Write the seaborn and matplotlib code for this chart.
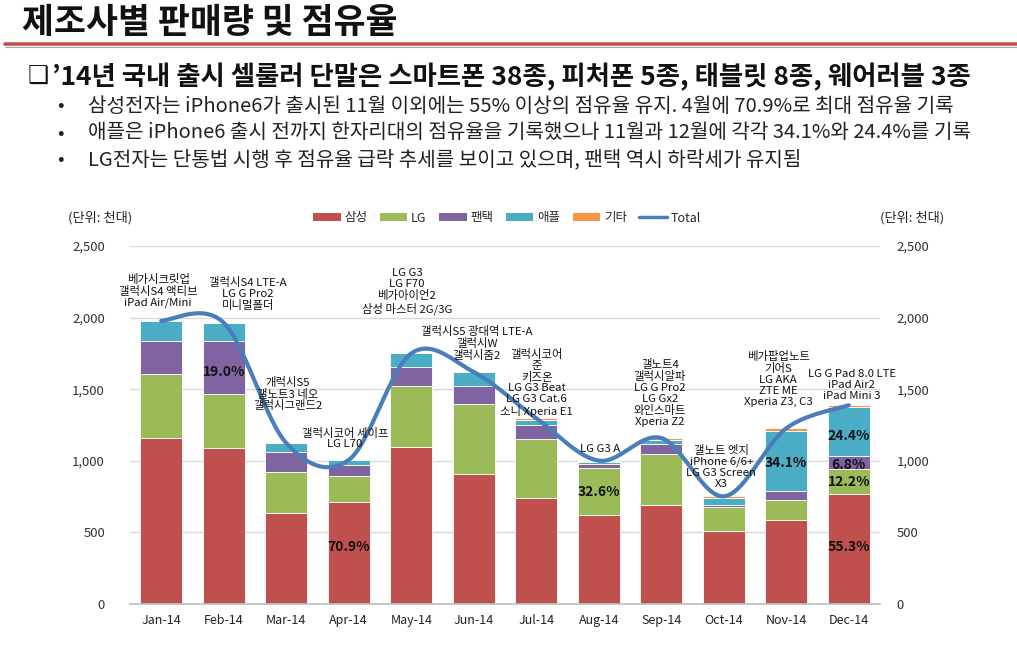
import numpy as np
import matplotlib
matplotlib.use("Agg")
import matplotlib.pyplot as plt
from matplotlib.patches import Patch
from matplotlib.lines import Line2D
import seaborn as sns

months = ["Jan-14", "Feb-14", "Mar-14", "Apr-14", "May-14", "Jun-14",
          "Jul-14", "Aug-14", "Sep-14", "Oct-14", "Nov-14", "Dec-14"]
samsung = [1161, 1089, 637, 714, 1099, 910, 740, 621, 691, 512, 584, 768]
lg = [445, 380, 285, 182, 421, 489, 412, 327, 359, 165, 142, 172]
pantech = [233, 370, 142, 77, 137, 126, 100, 30, 65, 14, 65, 96]
apple = [139, 125, 60, 33, 93, 95, 33, 14, 32, 51, 419, 338]
others = [0, 0, 0, 0, 0, 0, 12, 9, 12, 10, 17, 14]

series_names = ["삼성", "LG", "팬택", "애플", "기타"]
series_colors = ["#C0504D", "#9BBB59", "#8064A2", "#4BACC6", "#F79646"]
line_color = "#4A7EBB"

model_notes = [
    "베가시크릿업\n갤럭시S4 액티브\niPad Air/Mini",
    "갤럭시S4 LTE-A\nLG G Pro2\n미니멀폴더",
    "개럭시S5\n갤노트3 네오\n갤럭시그랜드2",
    "갤럭시코어 세이프\nLG L70",
    "LG G3\nLG F70\n베가아이언2\n삼성 마스터 2G/3G",
    "갤럭시S5 광대역 LTE-A\n갤럭시W\n갤럭시줌2",
    "갤럭시코어\n준\n키즈온\nLG G3 Beat\nLG G3 Cat.6\n소니 Xperia E1",
    "LG G3 A",
    "갤노트4\n갤럭시알파\nLG G Pro2\nLG Gx2\n와인스마트\nXperia Z2",
    "갤노트 엣지\niPhone 6/6+\nLG G3 Screen\nX3",
    "베가팝업노트\n기어S\nLG AKA\nZTE ME\nXperia Z3, C3",
    "LG G Pad 8.0 LTE\niPad Air2\niPad Mini 3",
]
note_pos = [(-0.05, 2186), (1.39, 2165), (2.03, 1466), (2.94, 1156),
            (3.93, 2182), (5.05, 1819), (6.01, 1543), (7.02, 1082),
            (7.98, 1473), (8.96, 957), (9.87, 1571), (11.05, 1529)]

share_labels = ["19.0%", "70.9%", "32.6%", "34.1%", "24.4%", "6.8%", "12.2%", "55.3%"]
share_pos = [(1, 1620), (3, 398), (7, 782), (10, 985),
             (11, 1173), (11, 971), (11, 852), (11, 398)]

sns.set_theme(style="white")
plt.rcParams["font.family"] = ["Noto Sans CJK KR", "DejaVu Sans"]

W, H = 1017, 649
fig = plt.figure(figsize=(W / 100, H / 100), dpi=100)
fig.patch.set_facecolor("white")

# header
fig.text(22 / W, 1 - 22 / H, "제조사별 판매량 및 점유율", fontsize=25, fontweight="black",
         va="center", ha="left", color="#111111")
fig.add_artist(Line2D([5 / W, 1], [1 - 43.5 / H] * 2, color="#C0504D", lw=2.6))
fig.add_artist(Line2D([5 / W, 1], [1 - 46.5 / H] * 2, color="#A6A6A6", lw=0.8))

fig.text(28 / W, 1 - 77 / H, "❑", fontsize=17, va="center", ha="left",
         family=["DejaVu Sans"], color="#111111")
fig.text(52 / W, 1 - 77 / H,
         "’14년 국내 출시 셀룰러 단말은 스마트폰 38종, 피처폰 5종, 태블릿 8종, 웨어러블 3종",
         fontsize=19, fontweight="bold", va="center", ha="left", color="#111111")
bullets = [
    "삼성전자는 iPhone6가 출시된 11월 이외에는 55% 이상의 점유율 유지. 4월에 70.9%로 최대 점유율 기록",
    "애플은 iPhone6 출시 전까지 한자리대의 점유율을 기록했으나 11월과 12월에 각각 34.1%와 24.4%를 기록",
    "LG전자는 단통법 시행 후 점유율 급락 추세를 보이고 있으며, 팬택 역시 하락세가 유지됨",
]
for i, b in enumerate(bullets):
    y = 1 - (106 + 27 * i) / H
    fig.text(57 / W, y, "•", fontsize=14, va="center", ha="left", color="#222222")
    fig.text(88 / W, y, b, fontsize=14.5, va="center", ha="left", color="#222222")

# chart
ax = fig.add_axes([130 / W, 1 - 604 / H, 750 / W, 358 / H])
x = np.arange(len(months))
bottom = np.zeros(len(months))
for name, vals, col in zip(series_names, [samsung, lg, pantech, apple, others], series_colors):
    ax.bar(x, vals, width=0.667, bottom=bottom, color=col, edgecolor="white",
           linewidth=0.6, zorder=2)
    bottom += np.array(vals)
total = bottom.copy()

# Excel-style smoothed line (Catmull-Rom bezier through monthly totals)
px, py = [], []
pts = np.column_stack([x, total]).astype(float)
t = np.linspace(0, 1, 30)
for i in range(len(pts) - 1):
    p0 = pts[max(i - 1, 0)]
    p1 = pts[i]
    p2 = pts[i + 1]
    p3 = pts[min(i + 2, len(pts) - 1)]
    c1 = p1 + (p2 - p0) / 6
    c2 = p2 - (p3 - p1) / 6
    seg = ((1 - t) ** 3)[:, None] * p1 + (3 * (1 - t) ** 2 * t)[:, None] * c1 \
        + (3 * (1 - t) * t ** 2)[:, None] * c2 + (t ** 3)[:, None] * p2
    px.extend(seg[:, 0])
    py.extend(seg[:, 1])
sns.lineplot(x=px, y=py, ax=ax, sort=False, color=line_color, linewidth=3, zorder=4)

ax.set_xlim(-0.5, 11.5)
ax.set_ylim(0, 2500)
ax.set_yticks(range(0, 2501, 500))
ax.set_yticklabels([f"{v:,}" for v in range(0, 2501, 500)], fontsize=9.5, color="#333333")
ax.yaxis.grid(True, color="#D9D9D9", linewidth=1, zorder=0)
ax.set_axisbelow(True)
ax.set_xticks(x)
ax.set_xticklabels(months, fontsize=9, color="#222222")
ax.set_xticks(np.arange(-0.5, 12, 1), minor=True)
ax.tick_params(axis="x", which="major", length=0, pad=7)
ax.tick_params(axis="x", which="minor", length=5, color="#BFBFBF", direction="out")
ax.tick_params(axis="y", length=0, pad=18)
for s in ["top", "right", "left"]:
    ax.spines[s].set_visible(False)
ax.spines["bottom"].set_color("#BFBFBF")
ax.set_xlabel("")
ax.set_ylabel("")

ax2 = ax.twinx()
ax2.set_ylim(0, 2500)
ax2.set_yticks(range(0, 2501, 500))
ax2.set_yticklabels([f"{v:,}" for v in range(0, 2501, 500)], fontsize=9.5, color="#333333")
ax2.tick_params(axis="y", length=0, pad=12)
for s in ax2.spines.values():
    s.set_visible(False)
ax2.grid(False)

for note, (nx, ny) in zip(model_notes, note_pos):
    ax.text(nx, ny, note, ha="center", va="center", fontsize=8.2, linespacing=1.1,
            color="#111111", zorder=5)
for lab, (sx, sy) in zip(share_labels, share_pos):
    ax.text(sx, sy, lab, ha="center", va="center", fontsize=10, fontweight="bold",
            color="#111111", zorder=5)

fig.text(68 / W, 1 - 218 / H, "(단위: 천대)", fontsize=9.5, va="center", ha="left", color="#222222")
fig.text(880 / W, 1 - 218 / H, "(단위: 천대)", fontsize=9.5, va="center", ha="left", color="#222222")

handles = [Patch(facecolor=c, edgecolor="none") for c in series_colors]
handles.append(Line2D([0], [0], color=line_color, lw=2.5))
fig.legend(handles, series_names + ["Total"], loc="center", ncol=6,
           bbox_to_anchor=(507 / W, 1 - 218 / H), frameon=False, fontsize=9,
           handlelength=2.2, handleheight=0.55, handletextpad=0.3, columnspacing=1.0)

fig.savefig("out.png", dpi=100, facecolor="white")
